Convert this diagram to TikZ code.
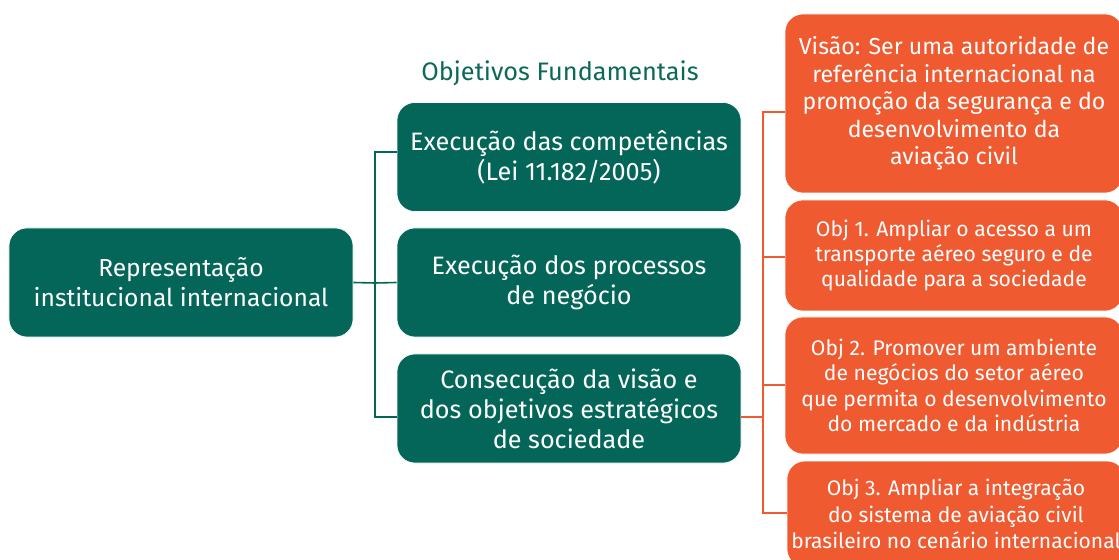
\documentclass[tikz,border=0pt]{standalone}
\usepackage{fontspec}
\setmainfont{Fira Sans}
\usetikzlibrary{calc}
\definecolor{dgreen}{RGB}{3,102,88}
\definecolor{tgreen}{RGB}{12,104,88}
\definecolor{orng}{RGB}{240,90,48}
\tikzset{
  gbox/.style={fill=dgreen, draw=white, line width=0.6bp, rounded corners=18bp, text=white, align=center,
    minimum width=344bp, minimum height=109bp, inner sep=0pt, font=\fontsize{25.3}{30}\selectfont},
  obox/.style={fill=orng, draw=white, line width=0.6bp, rounded corners=18bp, text=white, align=center,
    minimum width=338bp, inner sep=0pt, font=\fontsize{21.2}{25.5}\selectfont},
  gline/.style={draw=dgreen, line width=1.6bp},
  oline/.style={draw=orng, line width=1.6bp},
}
\begin{document}
\begin{tikzpicture}[x=1bp,y=-1bp]
\useasboundingbox (0,0) rectangle (1119,560);
\fill[white] (0,0) rectangle (1119,560);
\node[gbox, font=\fontsize{24.7}{30}\selectfont] (L) at (181,282.5) {Representação\\institucional internacional};
\node[text=tgreen, font=\fontsize{25.4}{30}\selectfont] (T) at (560,73) {Objetivos Fundamentais};
\node[gbox] (G1) at (569,157) {Execução das competências\\(Lei 11.182/2005)};
\node[gbox] (G2) at (569,282.5) {Execução dos processos\\de negócio};
\node[gbox] (G3) at (569,408.5) {Consecução da visão e\\dos objetivos estratégicos\\de sociedade};
\node[obox, minimum height=179bp, font=\fontsize{23.2}{27.5}\selectfont] (O1) at (954,103.5) {Visão: Ser uma autoridade de\\referência internacional na\\promoção da segurança e do\\desenvolvimento da\\aviação civil};
\node[obox, minimum height=111bp] (O2) at (954,255.5) {Obj 1. Ampliar o acesso a um\\transporte aéreo seguro e de\\qualidade para a sociedade};
\node[obox, minimum height=137bp] (O3) at (954,385.5) {Obj 2. Promover um ambiente\\de negócios do setor aéreo\\que permita o desenvolvimento\\do mercado e da indústria};
\node[obox, minimum height=106bp, font=\fontsize{21.1}{26.5}\selectfont] (O4) at (956,514) {Obj 3. Ampliar a integração\\do sistema de aviação civil\\brasileiro no cenário internacional};
% green connectors
\coordinate (jg) at (375,283);
\coordinate (jg1) at (375,152);
\coordinate (jg3) at (375,417);
\draw[gline] (L.east) -- (jg);
\draw[gline] (G1.west |- jg1) -- (jg1) -- (jg3) -- (G3.west |- jg3);
\draw[gline] (jg) -- (G2.west);
% orange connectors
\coordinate (jo) at (763,417);
\coordinate (jo1) at (763,112);
\coordinate (jo2) at (763,257);
\coordinate (jo3) at (763,385);
\coordinate (jo4) at (763,513);
\draw[oline] (G3.east |- jo) -- (jo);
\draw[oline] (O1.west |- jo1) -- (jo1) -- (jo4) -- (O4.west |- jo4);
\draw[oline] (jo2) -- (O2.west |- jo2);
\draw[oline] (jo3) -- (O3.west |- jo3);
\end{tikzpicture}
\end{document}
